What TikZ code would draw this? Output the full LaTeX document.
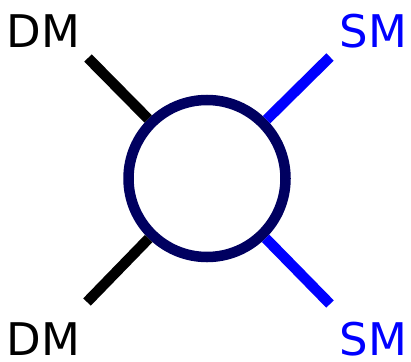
\documentclass[tikz,border=0pt]{standalone}
\usepackage{fontspec}
\setmainfont{DejaVu Sans}
\definecolor{ringblue}{RGB}{0,0,96}
\begin{document}
\begin{tikzpicture}[
  x=1pt, y=-1pt,
  ring/.style={draw=ringblue, line width=10.5pt, circle, minimum size=157pt, inner sep=0pt},
  dmline/.style={line width=10.5pt, black},
  smline/.style={line width=10.5pt, blue},
  lbl/.style={inner sep=0pt, font=\fontsize{45}{54}\selectfont}
]
\useasboundingbox (0,0) rectangle (411,361);
\node[ring] (blob) at (207,178.5) {};

\coordinate (dmtop) at (88,58);
\coordinate (dmbot) at (87,302);
\coordinate (smtop) at (330,57);
\coordinate (smbot) at (330,304);

\draw[dmline] (blob) -- (dmtop);
\draw[dmline] (blob) -- (dmbot);
\draw[smline] (blob) -- (smtop);
\draw[smline] (blob) -- (smbot);

\node[lbl, anchor=base west] (dmtoplbl) at (6.5,48) {DM};
\node[lbl, anchor=base west] (dmbotlbl) at (6.5,355) {DM};
\node[lbl, anchor=base east, text=blue] (smtoplbl) at (407.5,48) {SM};
\node[lbl, anchor=base east, text=blue] (smbotlbl) at (407.5,355) {SM};
\end{tikzpicture}
\end{document}
